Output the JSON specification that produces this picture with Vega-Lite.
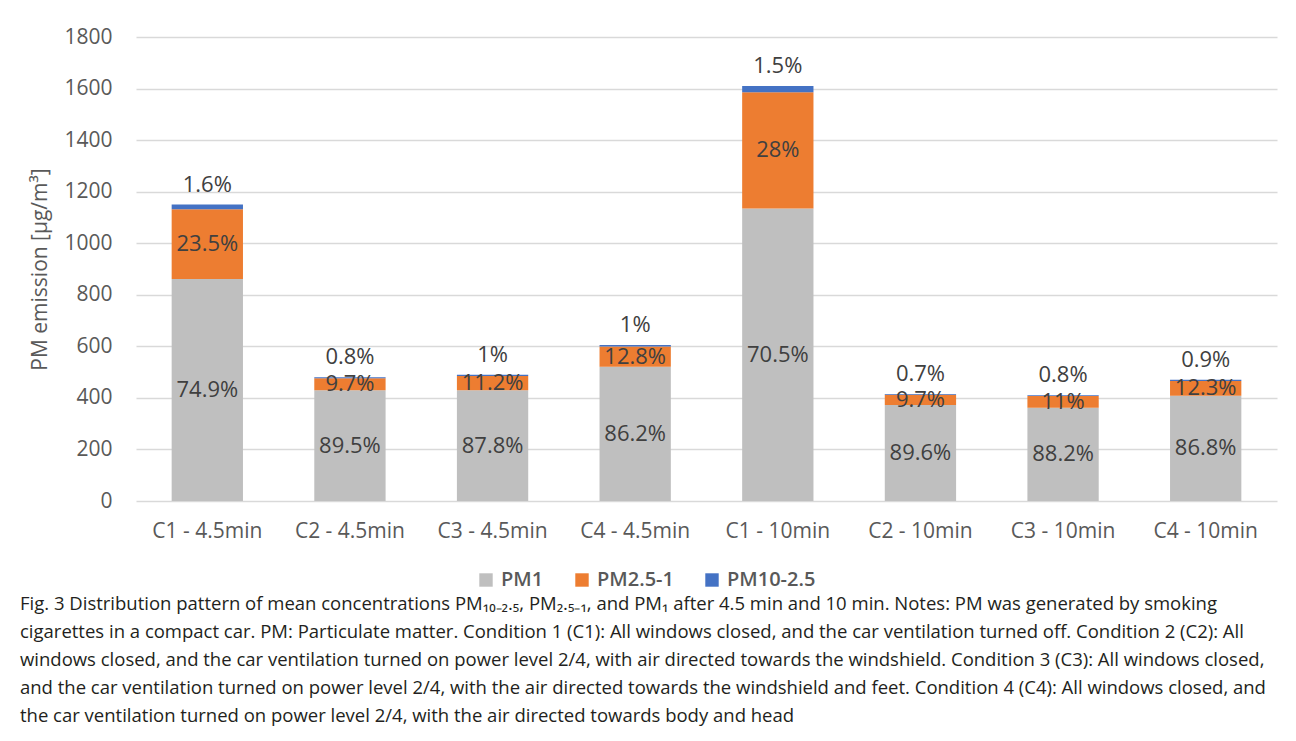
{
  "$schema": "https://vega.github.io/schema/vega-lite/v6.json",
  "width": 1141,
  "height": 464,
  "padding": {"left": 19, "top": 26, "right": 14, "bottom": 5},
  "background": "#ffffff",
  "data": {
    "values": [
      {"cond": "C1 - 4.5min", "series": "PM1", "k": 1, "value": 861, "label": "74.9%"},
      {"cond": "C1 - 4.5min", "series": "PM2.5-1", "k": 2, "value": 271, "label": "23.5%"},
      {"cond": "C1 - 4.5min", "series": "PM10-2.5", "k": 3, "value": 18, "label": "1.6%"},
      {"cond": "C2 - 4.5min", "series": "PM1", "k": 1, "value": 430, "label": "89.5%"},
      {"cond": "C2 - 4.5min", "series": "PM2.5-1", "k": 2, "value": 46, "label": "9.7%"},
      {"cond": "C2 - 4.5min", "series": "PM10-2.5", "k": 3, "value": 4, "label": "0.8%"},
      {"cond": "C3 - 4.5min", "series": "PM1", "k": 1, "value": 430, "label": "87.8%"},
      {"cond": "C3 - 4.5min", "series": "PM2.5-1", "k": 2, "value": 55, "label": "11.2%"},
      {"cond": "C3 - 4.5min", "series": "PM10-2.5", "k": 3, "value": 5, "label": "1%"},
      {"cond": "C4 - 4.5min", "series": "PM1", "k": 1, "value": 521, "label": "86.2%"},
      {"cond": "C4 - 4.5min", "series": "PM2.5-1", "k": 2, "value": 78, "label": "12.8%"},
      {"cond": "C4 - 4.5min", "series": "PM10-2.5", "k": 3, "value": 6, "label": "1%"},
      {"cond": "C1 - 10min", "series": "PM1", "k": 1, "value": 1135, "label": "70.5%"},
      {"cond": "C1 - 10min", "series": "PM2.5-1", "k": 2, "value": 451, "label": "28%"},
      {"cond": "C1 - 10min", "series": "PM10-2.5", "k": 3, "value": 24, "label": "1.5%"},
      {"cond": "C2 - 10min", "series": "PM1", "k": 1, "value": 372, "label": "89.6%"},
      {"cond": "C2 - 10min", "series": "PM2.5-1", "k": 2, "value": 40, "label": "9.7%"},
      {"cond": "C2 - 10min", "series": "PM10-2.5", "k": 3, "value": 3, "label": "0.7%"},
      {"cond": "C3 - 10min", "series": "PM1", "k": 1, "value": 362, "label": "88.2%"},
      {"cond": "C3 - 10min", "series": "PM2.5-1", "k": 2, "value": 45, "label": "11%"},
      {"cond": "C3 - 10min", "series": "PM10-2.5", "k": 3, "value": 3, "label": "0.8%"},
      {"cond": "C4 - 10min", "series": "PM1", "k": 1, "value": 408, "label": "86.8%"},
      {"cond": "C4 - 10min", "series": "PM2.5-1", "k": 2, "value": 58, "label": "12.3%"},
      {"cond": "C4 - 10min", "series": "PM10-2.5", "k": 3, "value": 4, "label": "0.9%"}
    ]
  },
  "transform": [
    {"stack": "value", "groupby": ["cond"], "sort": [{"field": "k", "order": "ascending"}], "as": ["v0", "v1"]},
    {"calculate": "(datum.v0 + datum.v1) / 2", "as": "mid"}
  ],
  "encoding": {
    "x": {
      "field": "cond",
      "type": "nominal",
      "sort": null,
      "scale": {"paddingInner": 0.5, "paddingOuter": 0.25},
      "axis": {
        "title": null,
        "labelAngle": 0,
        "labelFontSize": 21,
        "labelColor": "#595959",
        "labelPadding": 19,
        "ticks": false,
        "domain": false
      }
    }
  },
  "layer": [
    {
      "mark": {"type": "bar"},
      "encoding": {
        "y": {
          "field": "v1",
          "type": "quantitative",
          "scale": {"domain": [0, 1800]},
          "axis": {
            "title": "PM emission [µg/m³]",
            "titleFontSize": 21,
            "titleFontWeight": "normal",
            "titleColor": "#595959",
            "titlePadding": 13,
            "labelFontSize": 21,
            "labelColor": "#595959",
            "labelPadding": 24,
            "labelOverlap": false,
            "format": "d",
            "values": [0, 200, 400, 600, 800, 1000, 1200, 1400, 1600, 1800],
            "ticks": false,
            "domain": false,
            "grid": true,
            "gridColor": "#d9d9d9",
            "gridWidth": 1.5
          }
        },
        "y2": {"field": "v0"},
        "color": {
          "field": "series",
          "type": "nominal",
          "sort": ["PM1", "PM2.5-1", "PM10-2.5"],
          "scale": {"domain": ["PM1", "PM2.5-1", "PM10-2.5"], "range": ["#bfbfbf", "#ed7d31", "#4472c4"]},
          "legend": {
            "title": null,
            "orient": "none",
            "legendX": 340,
            "legendY": 533,
            "direction": "horizontal",
            "symbolType": "square",
            "symbolSize": 180,
            "symbolStrokeWidth": 0,
            "labelFontSize": 20,
            "labelFontWeight": 600,
            "labelColor": "#595959",
            "labelOffset": 5,
            "columnPadding": 28
          }
        }
      }
    },
    {
      "transform": [{"filter": "datum.k < 3"}],
      "mark": {"type": "text", "fontSize": 22, "color": "#404040", "baseline": "middle"},
      "encoding": {
        "y": {"field": "mid", "type": "quantitative"},
        "text": {"field": "label"}
      }
    },
    {
      "transform": [{"filter": "datum.k == 3"}],
      "mark": {"type": "text", "fontSize": 22, "color": "#404040", "baseline": "middle", "dy": -20},
      "encoding": {
        "y": {"field": "v1", "type": "quantitative"},
        "text": {"field": "label"}
      }
    }
  ],
  "title": {
    "text": [
      "Fig. 3  Distribution pattern of mean concentrations PM₁₀₋₂.₅, PM₂.₅₋₁, and PM₁ after 4.5 min and 10 min. Notes: PM was generated by smoking",
      "cigarettes in a compact car. PM: Particulate matter. Condition 1 (C1): All windows closed, and the car ventilation turned off. Condition 2 (C2): All",
      "windows closed, and the car ventilation turned on power level 2/4, with air directed towards the windshield. Condition 3 (C3): All windows closed,",
      "and the car ventilation turned on power level 2/4, with the air directed towards the windshield and feet. Condition 4 (C4): All windows closed, and",
      "the car ventilation turned on power level 2/4, with the air directed towards body and head"
    ],
    "orient": "bottom",
    "anchor": "start",
    "frame": "bounds",
    "font": "Open Sans",
    "fontSize": 18.5,
    "fontWeight": "normal",
    "color": "#231f20",
    "lineHeight": 28,
    "offset": 5,
    "dx": -10
  },
  "config": {
    "font": "Open Sans",
    "view": {"stroke": null}
  }
}
